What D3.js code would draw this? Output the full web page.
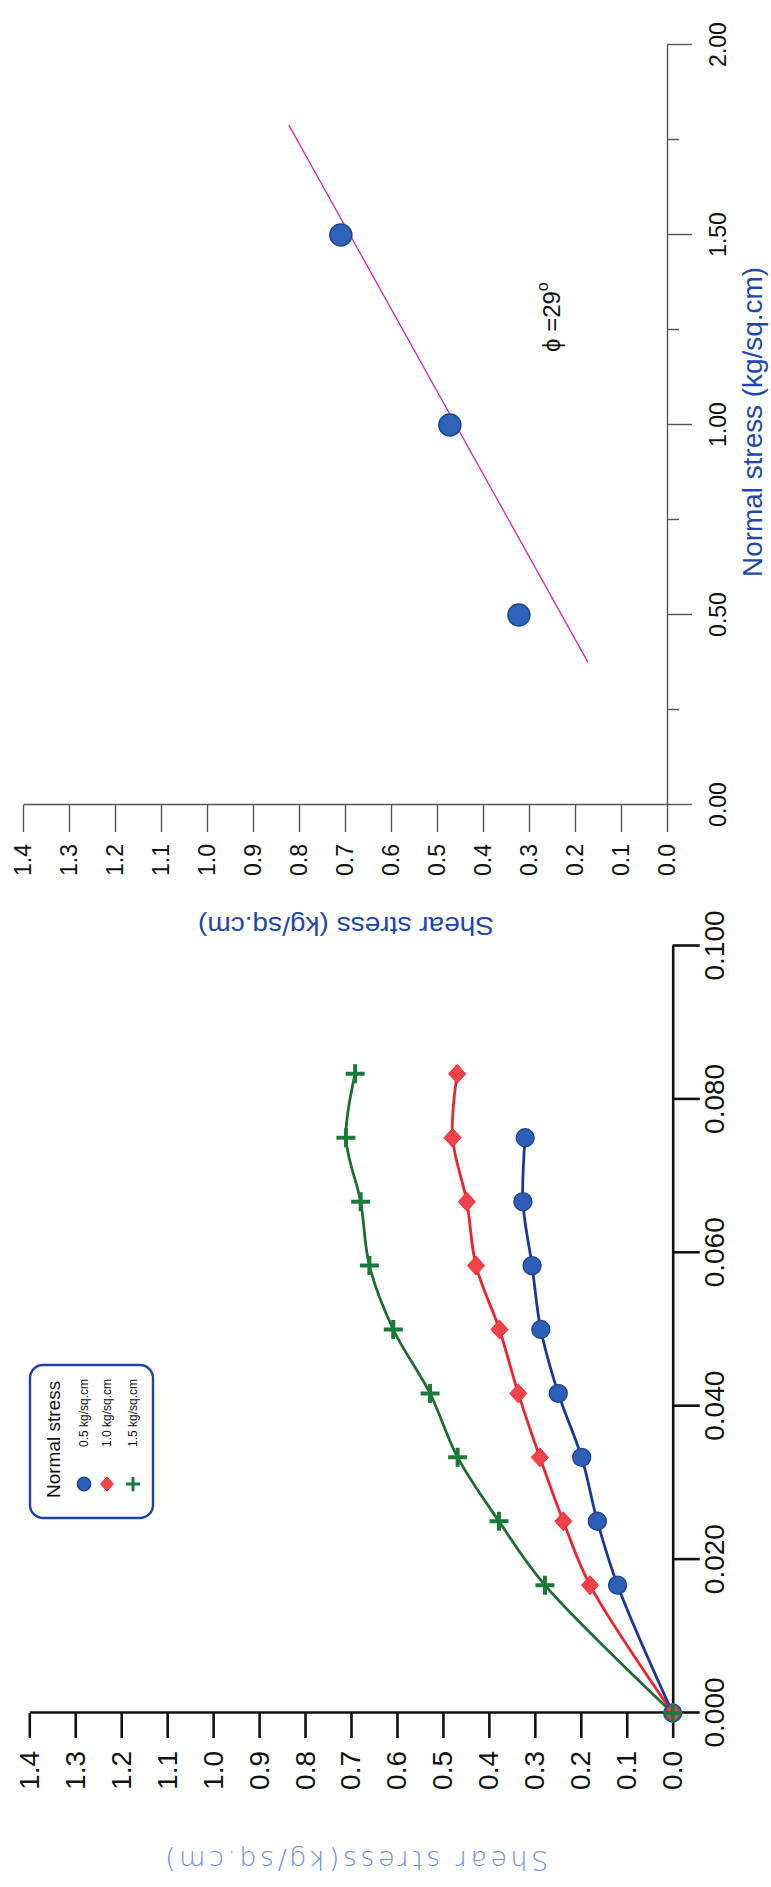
<!DOCTYPE html>
<html><head><meta charset="utf-8">
<script src="https://cdn.jsdelivr.net/npm/d3@7"></script>
<style>body{margin:0;background:#fff}svg{display:block}</style>
</head><body>
<svg id="c" width="771" height="1887"></svg>
<script>
// ---------- DATA ----------
// Shear stress vs. horizontal strain (direct shear test)
const strain   = [0, 0.01667, 0.025, 0.03333, 0.04167, 0.05, 0.05833, 0.06667, 0.075, 0.08333];
const shear05  = [0, 0.120, 0.164, 0.198, 0.249, 0.287, 0.306, 0.326, 0.321];
const shear10  = [0, 0.180, 0.238, 0.289, 0.336, 0.377, 0.428, 0.448, 0.479, 0.469];
const shear15  = [0, 0.278, 0.378, 0.468, 0.528, 0.608, 0.660, 0.679, 0.711, 0.691];
const seriesNames = ["0.5 kg/sq.cm", "1.0 kg/sq.cm", "1.5 kg/sq.cm"];
const legendTitle = "Normal stress";
const strainTicks = [0, 0.02, 0.04, 0.06, 0.08, 0.10];
const shearTicks  = [0, 0.1, 0.2, 0.3, 0.4, 0.5, 0.6, 0.7, 0.8, 0.9, 1.0, 1.1, 1.2, 1.3, 1.4];
// Failure envelope (shear stress vs. normal stress)
const normalStress = [0.5, 1.0, 1.5];
const peakShear    = [0.322, 0.472, 0.709];
const envelopeNormal = [0.376, 1.789];
const envelopeShear  = [0.172, 0.822];
const normalTicks = [0, 0.25, 0.5, 0.75, 1.0, 1.25, 1.5, 1.75, 2.0];
const phiText = "\u03D5 =29";
const phiAt = [1.284, 0.252];  // [normal, shear] position of the annotation
const titleShearTop = "Shear stress (kg/sq.cm)";
const titleNormal   = "Normal stress (kg/sq.cm)";
const titleShearBot = "Shear stress(kg/sq.cm)";

// ---------- DRAW ----------
const svg = d3.select("#c");
const F = "'Liberation Sans', Arial, Helvetica, sans-serif";
const BLUE_T = "#1f47ad";

// ===== TOP PANEL (rotated -90) =====
const gT = svg.append("g").attr("transform", "translate(667,805) rotate(-90)");
const xN = d3.scaleLinear().domain([0, 2]).range([0, 760]);
const yT = d3.scaleLinear().domain([0, 1.4]).range([0, -644]);

const gN = gT.append("g").call(
  d3.axisBottom(xN).tickValues(normalTicks).tickSize(25).tickSizeOuter(0).tickFormat(d3.format(".2f")));
gN.selectAll(".tick").filter(d => Math.abs(d * 2 - Math.round(d * 2)) > 1e-9).each(function () {
  d3.select(this).select("line").attr("y2", 12);
  d3.select(this).select("text").remove();
});
gN.selectAll("text").attr("y", 51).attr("dy", "0.35em");

const gS = gT.append("g").call(
  d3.axisLeft(yT).tickValues(shearTicks).tickSize(27).tickPadding(12).tickSizeOuter(0).tickFormat(d3.format(".1f")));

[gN, gS].forEach(g => {
  g.select(".domain").attr("stroke", "#555").attr("stroke-width", 1.4);
  g.selectAll(".tick line").attr("stroke", "#555").attr("stroke-width", 1.4);
  g.selectAll("text").attr("fill", "#111").style("font-family", F).style("font-size", "23px");
});

// envelope line
gT.append("path")
  .attr("d", d3.line()(envelopeNormal.map((n, i) => [xN(n), yT(envelopeShear[i])])))
  .attr("stroke", "#e0259f").attr("stroke-width", 1.3).attr("fill", "none");

// points
gT.selectAll("circle.pk").data(normalStress).join("circle").attr("class", "pk")
  .attr("cx", d => xN(d)).attr("cy", (d, i) => yT(peakShear[i])).attr("r", 11)
  .attr("fill", "#2d63b9").attr("stroke", "#1c4797").attr("stroke-width", 1.5);

// phi annotation
const phi = gT.append("text").attr("x", xN(phiAt[0])).attr("y", yT(phiAt[1]))
  .attr("text-anchor", "middle").attr("dominant-baseline", "central")
  .style("font-family", F).style("font-size", "24px").attr("fill", "#111");
phi.append("tspan").text(phiText);
phi.append("tspan").attr("dy", "-0.55em").style("font-size", "16px").text("o");

// titles
gT.append("text").attr("x", 383).attr("y", 86)
  .attr("text-anchor", "middle").attr("dominant-baseline", "central")
  .attr("textLength", 310).attr("lengthAdjust", "spacingAndGlyphs")
  .style("font-family", F).style("font-size", "27px").attr("fill", BLUE_T).text(titleNormal);
gT.append("text").attr("transform", "translate(-121,-321) rotate(-90)")
  .attr("text-anchor", "middle").attr("dominant-baseline", "central")
  .attr("textLength", 296).attr("lengthAdjust", "spacingAndGlyphs")
  .style("font-family", F).style("font-size", "26px").attr("fill", BLUE_T).text(titleShearTop);

// ===== BOTTOM PANEL (rotated -90) =====
const gB = svg.append("g").attr("transform", "translate(672.7,1713) rotate(-90)");
const xS = d3.scaleLinear().domain([0, 0.1]).range([0, 767]);
const yB = d3.scaleLinear().domain([0, 1.4]).range([0, -643.4]);

const gX = gB.append("g").call(
  d3.axisBottom(xS).tickValues(strainTicks).tickSize(27).tickSizeOuter(0).tickFormat(d3.format(".3f")));
gX.selectAll("text").attr("y", 42).attr("dy", "0.35em");
const gY = gB.append("g").call(
  d3.axisLeft(yB).tickValues(shearTicks).tickSize(25).tickPadding(13).tickSizeOuter(0).tickFormat(d3.format(".1f")));
[gX, gY].forEach(g => {
  g.select(".domain").attr("stroke", "#111").attr("stroke-width", 2.6);
  g.selectAll(".tick line").attr("stroke", "#111").attr("stroke-width", 2.6);
  g.selectAll("text").attr("fill", "#111").style("font-family", F).style("font-size", "28px");
});

const series = [
  { name: seriesNames[0], vals: shear05, line: "#1b379c", fill: "#2d5fb8", shape: "circle" },
  { name: seriesNames[1], vals: shear10, line: "#f0222c", fill: "#f5414a", shape: "diamond" },
  { name: seriesNames[2], vals: shear15, line: "#1d6d34", fill: "#1a7a3c", shape: "plus" }
];
const lineGen = d3.line().x(d => xS(d[0])).y(d => yB(d[1])).curve(d3.curveCatmullRom.alpha(0.5));
series.forEach(s => {
  const pts = s.vals.map((v, i) => [strain[i], v]);
  gB.append("path").attr("d", lineGen(pts)).attr("fill", "none")
    .attr("stroke", s.line).attr("stroke-width", 2.8);
});

function marker(g, shape, u, w, scale, s) {
  if (shape === "circle") {
    g.append("circle").attr("cx", u).attr("cy", w).attr("r", 9 * scale)
      .attr("fill", s.fill).attr("stroke", "#1c4295").attr("stroke-width", 1.3);
  } else if (shape === "diamond") {
    const a = 9.5 * scale, b = 8.5 * scale;
    g.append("path").attr("d", `M${u - a},${w}L${u},${w - b}L${u + a},${w}L${u},${w + b}Z`)
      .attr("fill", s.fill).attr("stroke", "#e8303a").attr("stroke-width", 1);
  } else {
    const a = 9.5 * scale;
    g.append("path").attr("d", `M${u - a},${w}H${u + a}M${u},${w - a}V${w + a}`)
      .attr("stroke", s.fill).attr("stroke-width", 4 * scale).attr("fill", "none");
  }
}
series.forEach(s => {
  s.vals.forEach((v, i) => marker(gB, s.shape, xS(strain[i]), yB(v), 1, s));
});

// legend
const gL = gB.append("g");
gL.append("rect").attr("x", 195).attr("y", -642.7).attr("width", 153).attr("height", 123)
  .attr("rx", 13).attr("fill", "#fff").attr("stroke", "#2141a6").attr("stroke-width", 2.4);
gL.append("text").attr("x", 215).attr("y", -619.7).attr("dominant-baseline", "central")
  .style("font-family", F).style("font-size", "19px").attr("fill", "#111").text(legendTitle);
const legW = [-588.7, -565.7, -539.7];
series.forEach((s, i) => {
  marker(gL, s.shape, 229, legW[i], 0.75, s);
  gL.append("text").attr("x", 266).attr("y", legW[i]).attr("dominant-baseline", "central")
    .style("font-family", F).style("font-size", "12px").attr("fill", "#111").text(s.name);
});

// bottom shear title (upside down)
gB.append("text").attr("transform", "translate(-147,-316) rotate(-90)")
  .attr("text-anchor", "middle").attr("dominant-baseline", "central")
  .attr("textLength", 383).attr("lengthAdjust", "spacing")
  .style("font-family", "'DejaVu Sans', sans-serif").style("font-weight", "200")
  .style("font-size", "27px").attr("fill", "#6d8fdc").text(titleShearBot);
</script>
</body></html>
